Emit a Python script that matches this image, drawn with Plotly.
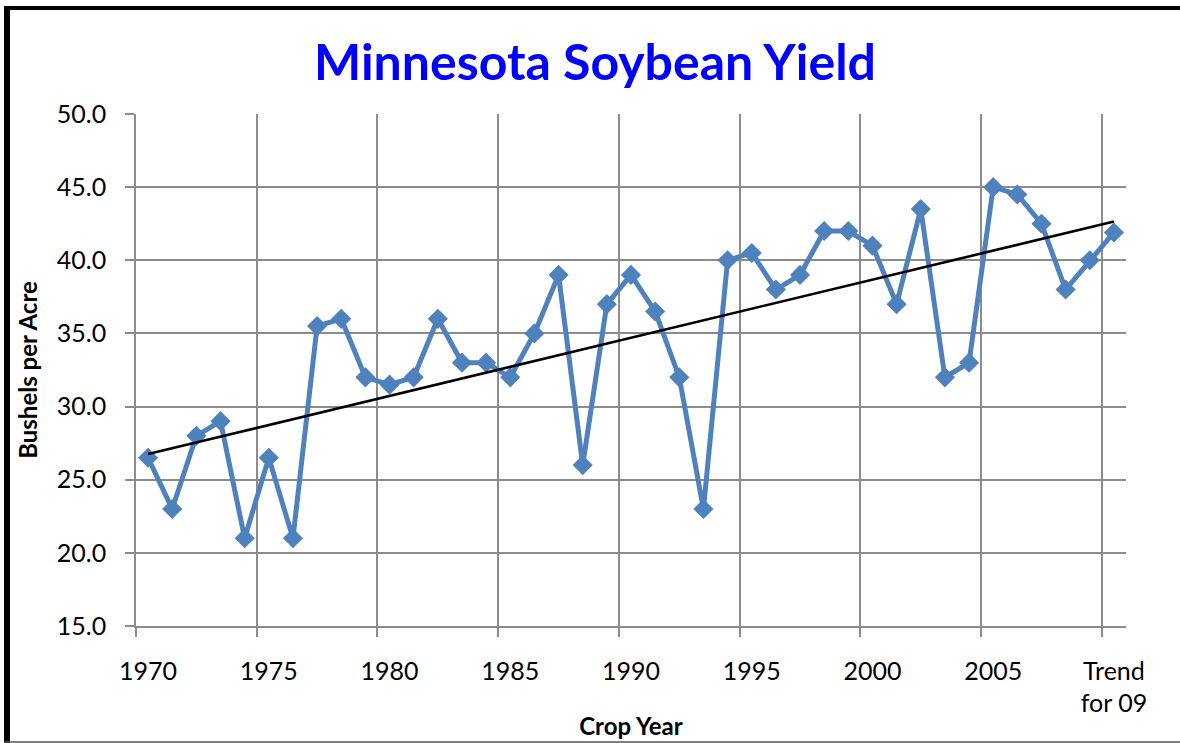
import plotly.graph_objects as go

# ---- data ----
categories = ["1970", "1971", "1972", "1973", "1974", "1975", "1976", "1977", "1978", "1979",
              "1980", "1981", "1982", "1983", "1984", "1985", "1986", "1987", "1988", "1989",
              "1990", "1991", "1992", "1993", "1994", "1995", "1996", "1997", "1998", "1999",
              "2000", "2001", "2002", "2003", "2004", "2005", "2006", "2007", "2008", "2009",
              "Trend for 09"]
yield_bu = [26.5, 23.0, 28.0, 29.0, 21.0, 26.5, 21.0, 35.5, 36.0, 32.0,
            31.5, 32.0, 36.0, 33.0, 33.0, 32.0, 35.0, 39.0, 26.0, 37.0,
            39.0, 36.5, 32.0, 23.0, 40.0, 40.5, 38.0, 39.0, 42.0, 42.0,
            41.0, 37.0, 43.5, 32.0, 33.0, 45.0, 44.5, 42.5, 38.0, 40.0,
            41.9]
trend_cats = ["1970", "Trend for 09"]
trend_vals = [26.75, 42.65]
tick_cats = ["1970", "1975", "1980", "1985", "1990", "1995", "2000", "2005", "Trend for 09"]
tick_text = ["1970", "1975", "1980", "1985", "1990", "1995", "2000", "2005", "Trend<br>for 09"]
y_ticks = [15.0, 20.0, 25.0, 30.0, 35.0, 40.0, 45.0, 50.0]

idx = {c: i for i, c in enumerate(categories)}
x_main = [idx[c] for c in categories]
x_trend = [idx[c] for c in trend_cats]
x_ticks = [idx[c] for c in tick_cats]
boundaries = [v - 0.5 for v in x_ticks]

W, H = 1180, 743
ML, MR, MT, MB = 136, 54, 114, 117
PW, PH = W - ML - MR, H - MT - MB

def px(x):
    return (x - ML) / PW

def py(y):
    return (H - MB - y) / PH

BLUE = "#4F81BD"
GRID = "#8C8C8C"
FONT = "Lato"

fig = go.Figure()
fig.add_trace(go.Scatter(
    x=x_main, y=yield_bu, mode="lines+markers",
    line=dict(color=BLUE, width=5),
    marker=dict(symbol="diamond", size=15.5, color=BLUE),
    showlegend=False, hoverinfo="skip"))
fig.add_trace(go.Scatter(
    x=x_trend, y=trend_vals, mode="lines",
    line=dict(color="black", width=2.6),
    showlegend=False, hoverinfo="skip"))

fig.update_layout(
    width=W, height=H, autosize=False,
    margin=dict(l=ML, r=MR, t=MT, b=MB),
    paper_bgcolor="white", plot_bgcolor="white",
    font=dict(family=FONT, color="black"),
    title=dict(text="Minnesota Soybean Yield", xref="container", x=595 / W,
               xanchor="center", yref="container", y=1 - 62 / H, yanchor="middle",
               font=dict(family=FONT, size=50, color="#0000FF", weight="bold")),
    xaxis=dict(range=[-0.5, len(categories) - 0.5], tickmode="array",
               tickvals=x_ticks, ticktext=tick_text, ticks="", showgrid=False,
               zeroline=False, showline=True, linecolor=GRID, linewidth=1.5,
               tickfont=dict(size=25, family=FONT, color="black"),
               ticklabelstandoff=22, automargin=False,
               title=dict(text="Crop Year", standoff=2,
                          font=dict(size=24, family=FONT, color="black", weight="bold")),
               minor=dict(tickmode="array", tickvals=boundaries, ticks="outside",
                          ticklen=9, tickcolor=GRID, tickwidth=1.5,
                          showgrid=True, gridcolor=GRID, gridwidth=1.5)),
    yaxis=dict(range=[15, 50], tickmode="array", tickvals=y_ticks,
               tickformat=".1f", ticks="outside", ticklen=9, tickcolor=GRID,
               tickwidth=1.5, showgrid=True, gridcolor=GRID, gridwidth=1.5,
               zeroline=False, showline=True, linecolor=GRID, linewidth=1.5,
               tickfont=dict(size=25, family=FONT, color="black"),
               ticklabelstandoff=14, automargin=False,
               title=dict(text="Bushels per Acre", standoff=12,
                          font=dict(size=24, family=FONT, color="black", weight="bold"))),
    shapes=[
        dict(type="line", xref="paper", yref="paper", x0=px(7), x1=px(7),
             y0=py(6), y1=py(743), line=dict(color="black", width=6), layer="above"),
        dict(type="line", xref="paper", yref="paper", x0=px(4), x1=px(1180),
             y0=py(8), y1=py(8), line=dict(color="black", width=4), layer="above"),
        dict(type="line", xref="paper", yref="paper", x0=px(4), x1=px(1180),
             y0=py(742), y1=py(742), line=dict(color="#555555", width=1.5), layer="above"),
    ],
)

fig.write_html("out.html", config={"displayModeBar": False},
               post_script="document.body.style.margin='0';")
